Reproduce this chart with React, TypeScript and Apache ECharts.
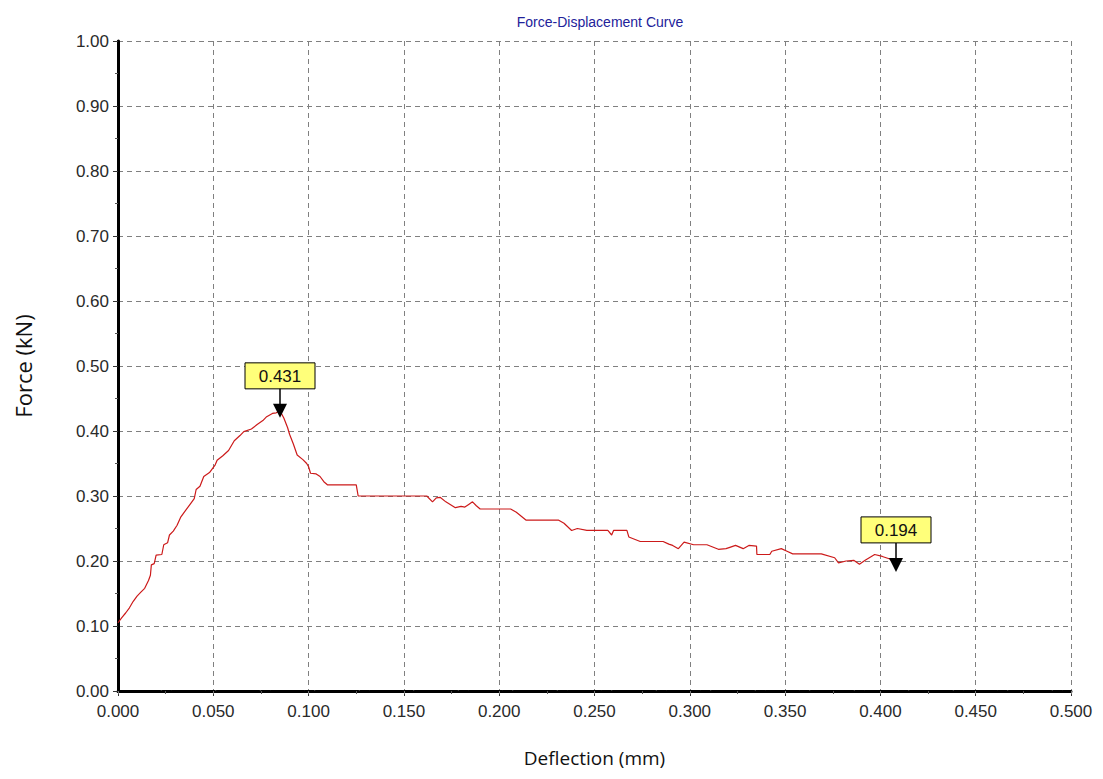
import React, { useEffect, useRef } from "react";
import * as echarts from "echarts";

const deflection: number[] = [
  0.0, 0.002, 0.004, 0.006, 0.008, 0.01, 0.012, 0.014, 0.016, 0.017, 0.0175, 0.019, 0.02, 0.023,
  0.024, 0.026, 0.027, 0.029, 0.031, 0.033, 0.035, 0.038, 0.04, 0.041, 0.043, 0.045, 0.048, 0.051,
  0.052, 0.055, 0.058, 0.061, 0.064, 0.066, 0.07, 0.073, 0.076, 0.078, 0.081, 0.083, 0.085, 0.087,
  0.089, 0.09, 0.092, 0.094, 0.097, 0.099, 0.1, 0.101, 0.104, 0.106, 0.108, 0.11, 0.125, 0.126,
  0.162, 0.165, 0.167, 0.169, 0.172, 0.177, 0.18, 0.182, 0.184, 0.186, 0.188, 0.19, 0.206, 0.209,
  0.214, 0.231, 0.234, 0.238, 0.241, 0.246, 0.257, 0.259, 0.26, 0.267, 0.268, 0.274, 0.286, 0.289,
  0.291, 0.294, 0.297, 0.302, 0.309, 0.315, 0.319, 0.321, 0.324, 0.328, 0.331, 0.335, 0.3352,
  0.342, 0.343, 0.348, 0.351, 0.354, 0.369, 0.376, 0.378, 0.382, 0.386, 0.389, 0.392, 0.397,
  0.401, 0.405, 0.408,
];

const force: number[] = [
  0.105, 0.113, 0.12, 0.128, 0.138, 0.146, 0.152, 0.158, 0.17, 0.178, 0.194, 0.196, 0.209, 0.21,
  0.225, 0.228, 0.24, 0.246, 0.255, 0.268, 0.276, 0.288, 0.296, 0.31, 0.315, 0.33, 0.336, 0.348,
  0.355, 0.362, 0.37, 0.385, 0.393, 0.399, 0.403, 0.41, 0.416, 0.422, 0.427, 0.428, 0.431, 0.42,
  0.405, 0.395, 0.38, 0.363, 0.356, 0.35, 0.345, 0.335, 0.334, 0.33, 0.322, 0.317, 0.317, 0.3,
  0.3, 0.291, 0.297, 0.298, 0.291, 0.282, 0.284, 0.283, 0.287, 0.291, 0.285, 0.28, 0.28, 0.275,
  0.263, 0.263, 0.258, 0.247, 0.25, 0.247, 0.247, 0.24, 0.247, 0.247, 0.237, 0.23, 0.23, 0.226,
  0.224, 0.219, 0.229, 0.225, 0.225, 0.218, 0.219, 0.221, 0.224, 0.219, 0.224, 0.223, 0.21,
  0.21, 0.215, 0.219, 0.215, 0.211, 0.211, 0.205, 0.197, 0.2, 0.201, 0.195, 0.201, 0.21,
  0.207, 0.203, 0.194,
];

const markerX: number[] = [0.085, 0.408];
const markerY: number[] = [0.431, 0.194];
const markerLabels: string[] = ["0.431", "0.194"];

const chartTitle = "Force-Displacement Curve";
const xName = "Deflection (mm)";
const yName = "Force (kN)";

export default function App() {
  const ref = useRef<HTMLDivElement>(null);

  useEffect(() => {
    if (!ref.current) return;
    const chart = echarts.init(ref.current, undefined, { renderer: "svg" });
    const data = deflection.map((x, i) => [x, force[i]]);
    const gridLine = { show: true, lineStyle: { color: "#808080", type: [5, 4], width: 1 } };
    const tickFont = { fontFamily: "Liberation Sans", fontSize: 17, color: "#2a2a2a" };

    chart.setOption({
      animation: false,
      backgroundColor: "#ffffff",
      title: {
        text: chartTitle,
        left: 595,
        top: 10,
        textAlign: "center",
        textStyle: { fontFamily: "Liberation Sans", fontSize: 14, fontWeight: "normal", color: "#22229a" },
      },
      grid: { left: 118, right: 32, top: 41, bottom: 88 },
      xAxis: [
        {
          type: "value",
          min: 0,
          max: 0.5,
          interval: 0.05,
          position: "bottom",
          name: xName,
          nameLocation: "middle",
          nameGap: 57,
          nameTextStyle: { fontFamily: "Open Sans", fontSize: 19, color: "#111" },
          axisLine: { show: true, onZero: false, lineStyle: { color: "#000", width: 3, type: [9, 2] } },
          axisTick: { show: true, length: 5, lineStyle: { color: "#333", width: 1 } },
          minorTick: { show: true, splitNumber: 2, length: 3, lineStyle: { color: "#555" } },
          axisLabel: { ...tickFont, margin: 12, formatter: (v: number) => v.toFixed(3) },
          splitLine: gridLine,
        },
        {
          type: "value",
          min: 0,
          max: 0.5,
          interval: 0.05,
          position: "top",
          axisLine: { show: true, lineStyle: { color: "#000", width: 2, type: [6, 3] } },
          axisTick: { show: true, inside: true, length: 3, lineStyle: { color: "#777" } },
          axisLabel: { show: false },
          splitLine: { show: false },
        },
      ],
      yAxis: [
        {
          type: "value",
          min: 0,
          max: 1,
          interval: 0.1,
          position: "left",
          name: yName,
          nameLocation: "middle",
          nameGap: 84,
          nameTextStyle: { fontFamily: "Open Sans", fontSize: 22, color: "#111" },
          axisLine: { show: true, onZero: false, lineStyle: { color: "#000", width: 3 } },
          axisTick: { show: true, length: 5, lineStyle: { color: "#333", width: 1 } },
          minorTick: { show: true, splitNumber: 2, length: 3, lineStyle: { color: "#555" } },
          axisLabel: { ...tickFont, margin: 9, formatter: (v: number) => v.toFixed(2) },
          splitLine: gridLine,
        },
        {
          type: "value",
          min: 0,
          max: 1,
          interval: 0.1,
          position: "right",
          axisLine: { show: true, lineStyle: { color: "#000", width: 2, type: [6, 3] } },
          axisTick: { show: false },
          axisLabel: { show: false },
          splitLine: { show: false },
        },
      ],
      series: [
        {
          type: "line",
          xAxisIndex: 0,
          yAxisIndex: 0,
          data,
          showSymbol: false,
          symbol: "none",
          lineStyle: { color: "#cc1a1a", width: 1.2 },
        },
      ],
    });

    const graphics: any[] = [];
    markerX.forEach((mx, i) => {
      const p = chart.convertToPixel({ gridIndex: 0 }, [mx, markerY[i]]) as number[];
      const tipX = Math.round(p[0]);
      const tipY = p[1] + 7;
      const boxW = 70;
      const boxH = 26;
      const boxBottom = tipY - 29;
      graphics.push(
        {
          type: "rect",
          shape: { x: tipX - boxW / 2, y: boxBottom - boxH, width: boxW, height: boxH },
          style: { fill: "#ffff7a", stroke: "#000", lineWidth: 1 },
          z: 10,
        },
        {
          type: "text",
          x: tipX,
          y: boxBottom - boxH / 2 + 1,
          style: {
            text: markerLabels[i],
            fontFamily: "Liberation Sans",
            fontSize: 17,
            fill: "#111",
            textAlign: "center",
            textVerticalAlign: "middle",
          },
          z: 11,
        },
        {
          type: "line",
          shape: { x1: tipX, y1: boxBottom, x2: tipX, y2: tipY - 13 },
          style: { stroke: "#000", lineWidth: 1.5 },
          z: 10,
        },
        {
          type: "polygon",
          shape: { points: [[tipX - 7, tipY - 14], [tipX + 7, tipY - 14], [tipX, tipY]] },
          style: { fill: "#000" },
          z: 10,
        }
      );
    });
    chart.setOption({ graphic: graphics });

    return () => chart.dispose();
  }, []);

  return (
    <div
      ref={ref}
      style={{ position: "fixed", left: 0, top: 0, width: 1103, height: 779, background: "#fff" }}
    />
  );
}
